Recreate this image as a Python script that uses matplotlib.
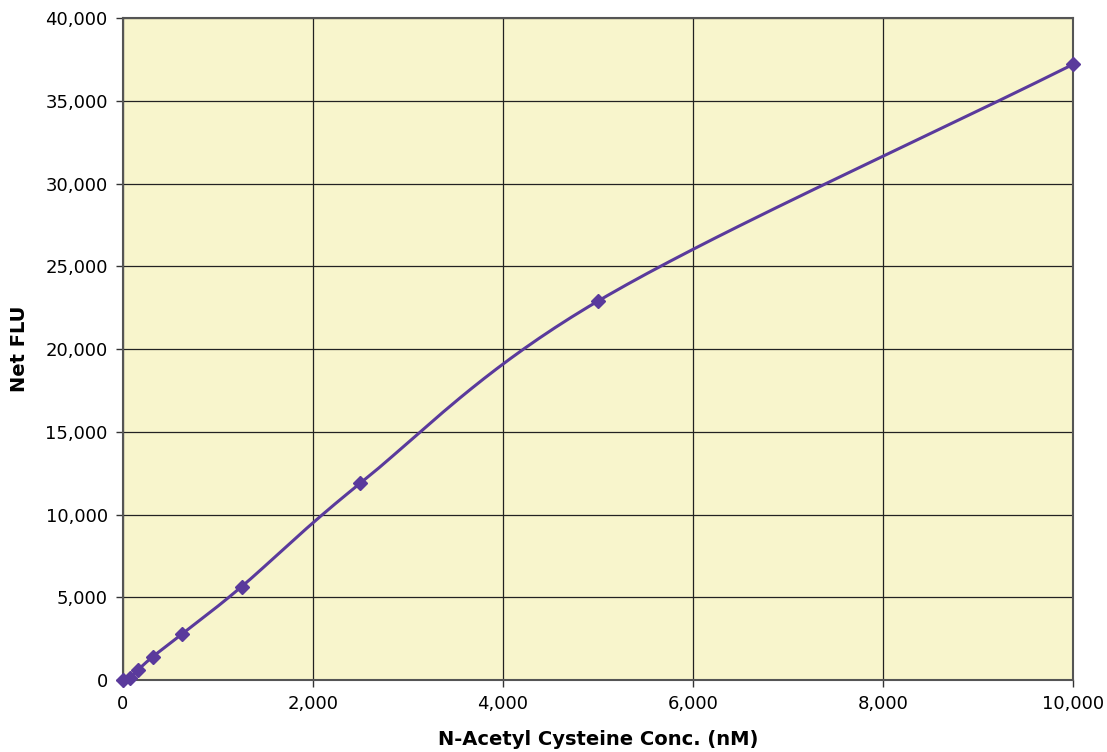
import numpy as np
import matplotlib
matplotlib.use("Agg")
import matplotlib.pyplot as plt
from matplotlib.ticker import FuncFormatter, MultipleLocator

conc = [0, 78, 156, 312, 625, 1250, 2500, 5000, 10000]
flu = [0, 150, 600, 1400, 2800, 5650, 11900, 22900, 37200]
x_label = "N-Acetyl Cysteine Conc. (nM)"
y_label = "Net FLU"

def smooth(xs, ys, n=40, t=0.5):
    xs = np.asarray(xs, float); ys = np.asarray(ys, float)
    px = np.concatenate([[2*xs[0]-xs[1]], xs, [2*xs[-1]-xs[-2]]])
    py = np.concatenate([[2*ys[0]-ys[1]], ys, [2*ys[-1]-ys[-2]]])
    outx, outy = [], []
    for i in range(1, len(px)-2):
        p0 = np.array([px[i-1], py[i-1]]); p1 = np.array([px[i], py[i]])
        p2 = np.array([px[i+1], py[i+1]]); p3 = np.array([px[i+2], py[i+2]])
        c1 = p1 + (p2 - p0) * t / 3
        c2 = p2 - (p3 - p1) * t / 3
        s = np.linspace(0, 1, n)[:, None]
        b = (1-s)**3*p1 + 3*(1-s)**2*s*c1 + 3*(1-s)*s**2*c2 + s**3*p2
        outx.extend(b[:, 0]); outy.extend(b[:, 1])
    return np.array(outx), np.array(outy)

fig = plt.figure(figsize=(11.07, 7.52), dpi=100)
ax = fig.add_axes([0.1111, 0.0957, 0.8582, 0.8803])
ax.set_facecolor("#F8F5CC")
color = "#5A3A9C"
sx, sy = smooth(conc, flu)
ax.plot(sx, sy, color=color, lw=2.2, zorder=3, clip_on=False)
ax.plot(conc, flu, ls="none", marker="D", ms=7, color=color, zorder=4, clip_on=False)
ax.set_xlim(0, 10000)
ax.set_ylim(0, 40000)
ax.xaxis.set_major_locator(MultipleLocator(2000))
ax.yaxis.set_major_locator(MultipleLocator(5000))
fmt = FuncFormatter(lambda v, p: f"{int(v):,}")
ax.xaxis.set_major_formatter(fmt)
ax.yaxis.set_major_formatter(fmt)
ax.grid(True, color="#222222", lw=0.9)
ax.set_axisbelow(True)
for s in ax.spines.values():
    s.set_color("#555555"); s.set_linewidth(1.5)
ax.tick_params(direction="out", length=5, width=1, color="#333333", labelsize=13, pad=6)
ax.set_xlabel(x_label, fontsize=14, fontweight="bold", labelpad=12)
ax.set_ylabel(y_label, fontsize=14, fontweight="bold", labelpad=12)
fig.savefig("out.png", dpi=100)
